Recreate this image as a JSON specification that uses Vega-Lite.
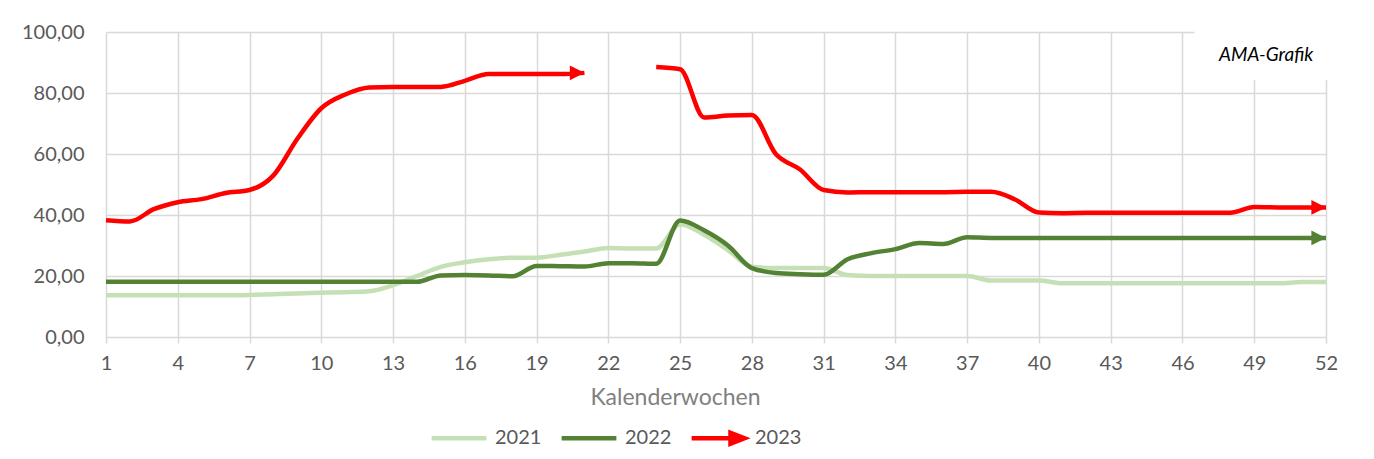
{
  "$schema": "https://vega.github.io/schema/vega-lite/v6.json",
  "width": 1220,
  "height": 305,
  "autosize": {"type": "none"},
  "padding": {"left": 106, "top": 32, "right": 48, "bottom": 122},
  "background": "white",
  "config": {"view": {"stroke": null}, "font": "Lato"},
  "datasets": {
    "series": [
      {"year": "2021", "week": 1, "value": 13.7, "seg": "a"},
      {"year": "2021", "week": 2, "value": 13.7, "seg": "a"},
      {"year": "2021", "week": 3, "value": 13.7, "seg": "a"},
      {"year": "2021", "week": 4, "value": 13.7, "seg": "a"},
      {"year": "2021", "week": 5, "value": 13.7, "seg": "a"},
      {"year": "2021", "week": 6, "value": 13.7, "seg": "a"},
      {"year": "2021", "week": 7, "value": 13.8, "seg": "a"},
      {"year": "2021", "week": 8, "value": 14.0, "seg": "a"},
      {"year": "2021", "week": 9, "value": 14.3, "seg": "a"},
      {"year": "2021", "week": 10, "value": 14.5, "seg": "a"},
      {"year": "2021", "week": 11, "value": 14.7, "seg": "a"},
      {"year": "2021", "week": 12, "value": 15.0, "seg": "a"},
      {"year": "2021", "week": 13, "value": 17.0, "seg": "a"},
      {"year": "2021", "week": 14, "value": 20.0, "seg": "a"},
      {"year": "2021", "week": 15, "value": 23.0, "seg": "a"},
      {"year": "2021", "week": 16, "value": 24.5, "seg": "a"},
      {"year": "2021", "week": 17, "value": 25.5, "seg": "a"},
      {"year": "2021", "week": 18, "value": 26.0, "seg": "a"},
      {"year": "2021", "week": 19, "value": 26.0, "seg": "a"},
      {"year": "2021", "week": 20, "value": 27.0, "seg": "a"},
      {"year": "2021", "week": 21, "value": 28.0, "seg": "a"},
      {"year": "2021", "week": 22, "value": 29.2, "seg": "a"},
      {"year": "2021", "week": 23, "value": 29.0, "seg": "a"},
      {"year": "2021", "week": 24, "value": 29.0, "seg": "a"},
      {"year": "2021", "week": 25, "value": 37.0, "seg": "a"},
      {"year": "2021", "week": 26, "value": 33.5, "seg": "a"},
      {"year": "2021", "week": 27, "value": 28.5, "seg": "a"},
      {"year": "2021", "week": 28, "value": 23.0, "seg": "a"},
      {"year": "2021", "week": 29, "value": 22.6, "seg": "a"},
      {"year": "2021", "week": 30, "value": 22.6, "seg": "a"},
      {"year": "2021", "week": 31, "value": 22.6, "seg": "a"},
      {"year": "2021", "week": 32, "value": 20.3, "seg": "a"},
      {"year": "2021", "week": 33, "value": 20.0, "seg": "a"},
      {"year": "2021", "week": 34, "value": 20.0, "seg": "a"},
      {"year": "2021", "week": 35, "value": 20.0, "seg": "a"},
      {"year": "2021", "week": 36, "value": 20.0, "seg": "a"},
      {"year": "2021", "week": 37, "value": 20.0, "seg": "a"},
      {"year": "2021", "week": 38, "value": 18.5, "seg": "a"},
      {"year": "2021", "week": 39, "value": 18.5, "seg": "a"},
      {"year": "2021", "week": 40, "value": 18.5, "seg": "a"},
      {"year": "2021", "week": 41, "value": 17.6, "seg": "a"},
      {"year": "2021", "week": 42, "value": 17.6, "seg": "a"},
      {"year": "2021", "week": 43, "value": 17.6, "seg": "a"},
      {"year": "2021", "week": 44, "value": 17.6, "seg": "a"},
      {"year": "2021", "week": 45, "value": 17.6, "seg": "a"},
      {"year": "2021", "week": 46, "value": 17.6, "seg": "a"},
      {"year": "2021", "week": 47, "value": 17.6, "seg": "a"},
      {"year": "2021", "week": 48, "value": 17.6, "seg": "a"},
      {"year": "2021", "week": 49, "value": 17.6, "seg": "a"},
      {"year": "2021", "week": 50, "value": 17.6, "seg": "a"},
      {"year": "2021", "week": 51, "value": 18.0, "seg": "a"},
      {"year": "2021", "week": 52, "value": 18.0, "seg": "a"},

      {"year": "2022", "week": 1, "value": 18.1, "seg": "a"},
      {"year": "2022", "week": 2, "value": 18.1, "seg": "a"},
      {"year": "2022", "week": 3, "value": 18.1, "seg": "a"},
      {"year": "2022", "week": 4, "value": 18.1, "seg": "a"},
      {"year": "2022", "week": 5, "value": 18.1, "seg": "a"},
      {"year": "2022", "week": 6, "value": 18.1, "seg": "a"},
      {"year": "2022", "week": 7, "value": 18.1, "seg": "a"},
      {"year": "2022", "week": 8, "value": 18.1, "seg": "a"},
      {"year": "2022", "week": 9, "value": 18.1, "seg": "a"},
      {"year": "2022", "week": 10, "value": 18.1, "seg": "a"},
      {"year": "2022", "week": 11, "value": 18.1, "seg": "a"},
      {"year": "2022", "week": 12, "value": 18.1, "seg": "a"},
      {"year": "2022", "week": 13, "value": 18.1, "seg": "a"},
      {"year": "2022", "week": 14, "value": 18.1, "seg": "a"},
      {"year": "2022", "week": 15, "value": 20.2, "seg": "a"},
      {"year": "2022", "week": 16, "value": 20.3, "seg": "a"},
      {"year": "2022", "week": 17, "value": 20.2, "seg": "a"},
      {"year": "2022", "week": 18, "value": 19.9, "seg": "a"},
      {"year": "2022", "week": 19, "value": 23.3, "seg": "a"},
      {"year": "2022", "week": 20, "value": 23.2, "seg": "a"},
      {"year": "2022", "week": 21, "value": 23.1, "seg": "a"},
      {"year": "2022", "week": 22, "value": 24.2, "seg": "a"},
      {"year": "2022", "week": 23, "value": 24.2, "seg": "a"},
      {"year": "2022", "week": 24, "value": 24.0, "seg": "a"},
      {"year": "2022", "week": 25, "value": 38.2, "seg": "a"},
      {"year": "2022", "week": 26, "value": 35.0, "seg": "a"},
      {"year": "2022", "week": 27, "value": 30.0, "seg": "a"},
      {"year": "2022", "week": 28, "value": 22.6, "seg": "a"},
      {"year": "2022", "week": 29, "value": 21.0, "seg": "a"},
      {"year": "2022", "week": 30, "value": 20.6, "seg": "a"},
      {"year": "2022", "week": 31, "value": 20.4, "seg": "a"},
      {"year": "2022", "week": 32, "value": 25.5, "seg": "a"},
      {"year": "2022", "week": 33, "value": 27.5, "seg": "a"},
      {"year": "2022", "week": 34, "value": 28.8, "seg": "a"},
      {"year": "2022", "week": 35, "value": 30.8, "seg": "a"},
      {"year": "2022", "week": 36, "value": 30.5, "seg": "a"},
      {"year": "2022", "week": 37, "value": 32.7, "seg": "a"},
      {"year": "2022", "week": 38, "value": 32.5, "seg": "a"},
      {"year": "2022", "week": 39, "value": 32.5, "seg": "a"},
      {"year": "2022", "week": 40, "value": 32.5, "seg": "a"},
      {"year": "2022", "week": 41, "value": 32.5, "seg": "a"},
      {"year": "2022", "week": 42, "value": 32.5, "seg": "a"},
      {"year": "2022", "week": 43, "value": 32.5, "seg": "a"},
      {"year": "2022", "week": 44, "value": 32.5, "seg": "a"},
      {"year": "2022", "week": 45, "value": 32.5, "seg": "a"},
      {"year": "2022", "week": 46, "value": 32.5, "seg": "a"},
      {"year": "2022", "week": 47, "value": 32.5, "seg": "a"},
      {"year": "2022", "week": 48, "value": 32.5, "seg": "a"},
      {"year": "2022", "week": 49, "value": 32.5, "seg": "a"},
      {"year": "2022", "week": 50, "value": 32.5, "seg": "a"},
      {"year": "2022", "week": 51, "value": 32.5, "seg": "a"},
      {"year": "2022", "week": 52, "value": 32.5, "seg": "a"},

      {"year": "2023", "week": 1, "value": 38.3, "seg": "a"},
      {"year": "2023", "week": 2, "value": 37.9, "seg": "a"},
      {"year": "2023", "week": 3, "value": 41.9, "seg": "a"},
      {"year": "2023", "week": 4, "value": 44.2, "seg": "a"},
      {"year": "2023", "week": 5, "value": 45.2, "seg": "a"},
      {"year": "2023", "week": 6, "value": 47.2, "seg": "a"},
      {"year": "2023", "week": 7, "value": 48.2, "seg": "a"},
      {"year": "2023", "week": 8, "value": 53.0, "seg": "a"},
      {"year": "2023", "week": 9, "value": 65.0, "seg": "a"},
      {"year": "2023", "week": 10, "value": 75.0, "seg": "a"},
      {"year": "2023", "week": 11, "value": 79.5, "seg": "a"},
      {"year": "2023", "week": 12, "value": 81.8, "seg": "a"},
      {"year": "2023", "week": 13, "value": 82.0, "seg": "a"},
      {"year": "2023", "week": 14, "value": 82.0, "seg": "a"},
      {"year": "2023", "week": 15, "value": 82.0, "seg": "a"},
      {"year": "2023", "week": 16, "value": 84.0, "seg": "a"},
      {"year": "2023", "week": 17, "value": 86.2, "seg": "a"},
      {"year": "2023", "week": 18, "value": 86.2, "seg": "a"},
      {"year": "2023", "week": 19, "value": 86.2, "seg": "a"},
      {"year": "2023", "week": 20, "value": 86.2, "seg": "a"},
      {"year": "2023", "week": 21, "value": 86.6, "seg": "a"},
      {"year": "2023", "week": 24, "value": 88.5, "seg": "b"},
      {"year": "2023", "week": 25, "value": 87.8, "seg": "b"},
      {"year": "2023", "week": 26, "value": 72.0, "seg": "b"},
      {"year": "2023", "week": 27, "value": 72.6, "seg": "b"},
      {"year": "2023", "week": 28, "value": 72.8, "seg": "b"},
      {"year": "2023", "week": 29, "value": 60.0, "seg": "b"},
      {"year": "2023", "week": 30, "value": 55.0, "seg": "b"},
      {"year": "2023", "week": 31, "value": 48.2, "seg": "b"},
      {"year": "2023", "week": 32, "value": 47.4, "seg": "b"},
      {"year": "2023", "week": 33, "value": 47.5, "seg": "b"},
      {"year": "2023", "week": 34, "value": 47.5, "seg": "b"},
      {"year": "2023", "week": 35, "value": 47.5, "seg": "b"},
      {"year": "2023", "week": 36, "value": 47.5, "seg": "b"},
      {"year": "2023", "week": 37, "value": 47.6, "seg": "b"},
      {"year": "2023", "week": 38, "value": 47.6, "seg": "b"},
      {"year": "2023", "week": 39, "value": 45.1, "seg": "b"},
      {"year": "2023", "week": 40, "value": 40.8, "seg": "b"},
      {"year": "2023", "week": 41, "value": 40.6, "seg": "b"},
      {"year": "2023", "week": 42, "value": 40.7, "seg": "b"},
      {"year": "2023", "week": 43, "value": 40.7, "seg": "b"},
      {"year": "2023", "week": 44, "value": 40.7, "seg": "b"},
      {"year": "2023", "week": 45, "value": 40.7, "seg": "b"},
      {"year": "2023", "week": 46, "value": 40.7, "seg": "b"},
      {"year": "2023", "week": 47, "value": 40.7, "seg": "b"},
      {"year": "2023", "week": 48, "value": 40.7, "seg": "b"},
      {"year": "2023", "week": 49, "value": 42.6, "seg": "b"},
      {"year": "2023", "week": 50, "value": 42.5, "seg": "b"},
      {"year": "2023", "week": 51, "value": 42.5, "seg": "b"},
      {"year": "2023", "week": 52, "value": 42.5, "seg": "b"}
    ]
  },
  "layer": [
    {
      "data": {"name": "series"},
      "mark": {"type": "line", "interpolate": "monotone", "strokeWidth": 4.5, "strokeCap": "butt"},
      "encoding": {
        "x": {
          "field": "week", "type": "quantitative",
          "scale": {"domain": [1, 52], "nice": false, "zero": false},
          "axis": {
            "title": "Kalenderwochen",
            "values": [1, 4, 7, 10, 13, 16, 19, 22, 25, 28, 31, 34, 37, 40, 43, 46, 49, 52],
            "grid": true, "gridColor": "#d9d9d9", "gridWidth": 1.5,
            "domain": false,
            "ticks": true, "tickSize": 6, "tickColor": "#d9d9d9", "tickWidth": 1.5,
            "labelFont": "Lato", "labelFontSize": 20, "labelColor": "#595959", "labelPadding": 10,
            "labelFlush": false, "labelOverlap": false,
            "titleFont": "Lato", "titleFontSize": 23, "titleFontWeight": "normal", "titleColor": "#808080",
            "titleX": 569, "titleY": 60, "titleBaseline": "middle", "titleAnchor": null
          }
        },
        "y": {
          "field": "value", "type": "quantitative",
          "scale": {"domain": [0, 100], "nice": false},
          "axis": {
            "title": null,
            "values": [0, 20, 40, 60, 80, 100],
            "grid": true, "gridColor": "#d9d9d9", "gridWidth": 1.5,
            "domain": false, "ticks": false,
            "labelFont": "Lato", "labelFontSize": 20, "labelColor": "#595959", "labelPadding": 22,
            "labelExpr": "replace(format(datum.value, '.2f'), '.', ',')"
          }
        },
        "color": {
          "field": "year", "type": "nominal",
          "scale": {"domain": ["2021", "2022", "2023"], "range": ["#c5e0b4", "#548235", "#ff0000"]},
          "legend": {
            "title": null,
            "orient": "none", "legendX": 323, "legendY": 376,
            "direction": "horizontal",
            "padding": 0,
            "symbolSize": 3000, "symbolStrokeWidth": 4.5,
            "labelFont": "Lato", "labelFontSize": 20, "labelColor": "#595959",
            "labelOffset": 6, "columnPadding": 10,
            "encode": {
              "symbols": {
                "update": {
                  "shape": {"signal": "datum.value === '2023' ? 'M -1 0 L 0.42 0 M 0.42 -0.2 L 0.93 0 L 0.42 0.2 Z' : 'M -1 -0.2 M -1 0.2 M -1 0 L 1 0'"},
                  "fill": {"signal": "datum.value === '2023' ? '#ff0000' : 'transparent'"}
                }
              }
            }
          }
        },
        "detail": {"field": "seg", "type": "nominal"}
      }
    },
    {
      "data": {"name": "series"},
      "transform": [{"filter": "datum.year === '2023' && (datum.week === 21 || datum.week === 52)"}],
      "mark": {"type": "point", "shape": "M -2 -1 L 0 0 L -2 1 Z", "filled": true, "size": 213, "opacity": 1, "color": "#ff0000", "strokeWidth": 0},
      "encoding": {
        "x": {"field": "week", "type": "quantitative"},
        "y": {"field": "value", "type": "quantitative"}
      }
    },
    {
      "data": {"name": "series"},
      "transform": [{"filter": "datum.year === '2022' && datum.week === 52"}],
      "mark": {"type": "point", "shape": "M -2 -1 L 0 0 L -2 1 Z", "filled": true, "size": 213, "opacity": 1, "color": "#548235", "strokeWidth": 0},
      "encoding": {
        "x": {"field": "week", "type": "quantitative"},
        "y": {"field": "value", "type": "quantitative"}
      }
    },
    {
      "data": {"values": [{}]},
      "mark": {"type": "rect", "fill": "white", "stroke": null},
      "encoding": {
        "x": {"datum": 46.5, "type": "quantitative"},
        "x2": {"datum": 53.5},
        "y": {"datum": 84.3, "type": "quantitative"},
        "y2": {"datum": 103}
      }
    },
    {
      "data": {"values": [{"label": "AMA-Grafik"}]},
      "mark": {"type": "text", "font": "Lato", "fontStyle": "italic", "fontSize": 19, "color": "#000000", "align": "center", "baseline": "middle"},
      "encoding": {
        "x": {"datum": 49.5, "type": "quantitative"},
        "y": {"datum": 92.5, "type": "quantitative"},
        "text": {"field": "label"}
      }
    }
  ]
}
